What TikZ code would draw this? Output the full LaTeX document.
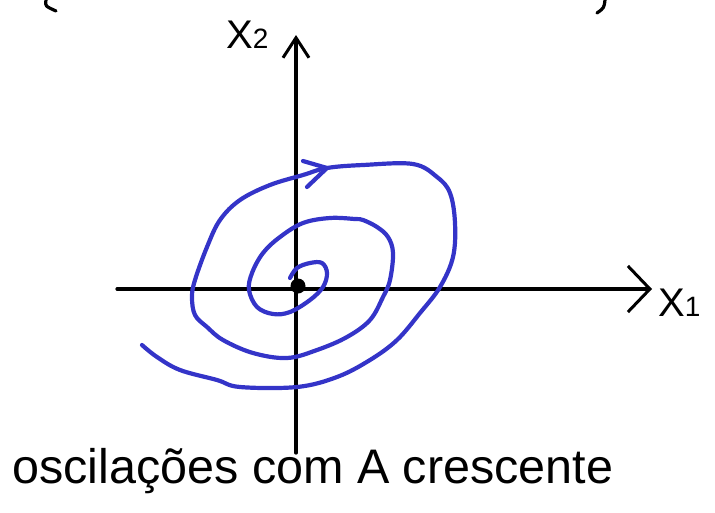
\documentclass[tikz,border=0pt]{standalone}
\usepackage{fontspec}
\setmainfont{Liberation Sans}
\usetikzlibrary{arrows.meta}
\definecolor{skInk}{HTML}{000000}
\definecolor{skBlue}{HTML}{3434C8}
\tikzset{
 sketch/.style={line cap=round,line join=round,text=skInk},
 axis/.style={draw=skInk,line width=3.2pt},
 axtipA/.style={-{Straight Barb[length=20pt,width=26pt,line width=3pt]}},
 axtipB/.style={-{Straight Barb[length=22pt,width=46pt,line width=3pt]}},
 spiral/.style={draw=skBlue,line width=4.2pt},
 axlabel/.style={font=\fontsize{40}{42}\selectfont,inner sep=0pt,anchor=base west},
 note/.style={font=\fontsize{48.5}{50}\selectfont,anchor=base west,inner sep=0pt},
 origin/.style={circle,fill=skInk,inner sep=0pt,minimum size=15pt}
}
\newcommand{\sk}[1]{{\fontsize{28}{30}\selectfont #1}}
\begin{document}
\begin{tikzpicture}[sketch,x=1pt,y=-1pt]
 \useasboundingbox (0,0) rectangle (715,512);
 \coordinate (ybot) at (296,453);
 \coordinate (ytop) at (296,35);
 \coordinate (xlft) at (117,289);
 \coordinate (xrgt) at (652,289);
 \draw[axis,axtipA] (ybot) -- (ytop);
 \draw[axis,axtipB] (xlft) -- (xrgt);
 \node[axlabel] (xtwo) at (226,48) {X\sk{2}};
 \node[axlabel] (xone) at (658,316) {X\sk{1}};
 \node[origin] (orig) at (298,286) {};
 % growing spiral, clockwise from the origin
 \draw[spiral] plot[smooth,tension=.6] coordinates {
  (290,278) (297,268) (310,263) (322,263) (327,273) (323,287) (310,300)
  (290,312) (273,314) (257,307) (249,290) (252,273) (263,253) (280,237)
  (303,223) (330,218) (355,219) (363,220) (377,227) (388,237) (393,253)
  (390,280) (383,297) (370,320) (347,337) (317,350) (287,358) (253,353)
  (223,340) (207,327) (195,315) (192,297) (195,280) (207,247) (220,220)
  (240,200) (270,185) (303,175) (327,168) (363,165) (413,164) (437,177)
  (450,193) (455,223) (453,257) (440,287) (420,313) (397,340) (370,360)
  (337,377) (297,387) (240,387) (217,380) (180,370) (157,357) (142,345)};
 \coordinate (sptip) at (327,168);
 \draw[spiral] (303,161) -- (sptip) -- (307,187);
 % cut-off strokes of the line above
 \draw[axis] (46,0) .. controls (45,6) .. (56,11);
 \draw[axis] (605,0) .. controls (604,8) .. (597,13);
 \node[note] (cap) at (12,483) {oscilações com A crescente};
\end{tikzpicture}
\end{document}
